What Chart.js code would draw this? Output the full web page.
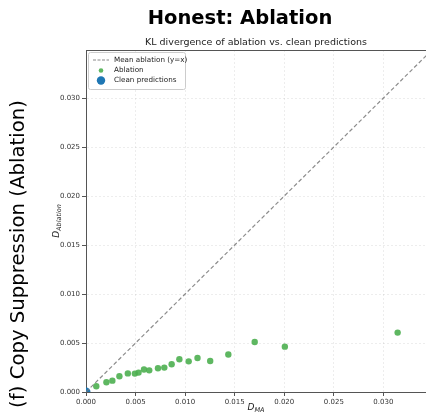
<!DOCTYPE html>
<html lang="en">
  <head>
    <meta charset="UTF-8" />
    <title>Honest: Ablation</title>
    <style>
      html, body { margin: 0; padding: 0; background: #fff; overflow: hidden; }
      canvas { display: block; }
    </style>
  </head>
  <body>
    <canvas id="chart" width="426" height="415"></canvas>

    <script src="https://cdn.jsdelivr.net/npm/chart.js@4.4.1/dist/chart.umd.min.js"></script>
    <script>
      // values
      const ablationX = [0.00104, 0.00206, 0.00266, 0.00337, 0.00422, 0.00493, 0.0053, 0.00585, 0.00638, 0.00726,
        0.0079, 0.00864, 0.00942, 0.01036, 0.01125, 0.01253, 0.01436, 0.01702, 0.02006, 0.03144];
      const ablationY = [0.00058, 0.00099, 0.00116, 0.0016, 0.0019, 0.00188, 0.00198, 0.00229, 0.00221, 0.00242,
        0.00249, 0.00283, 0.00334, 0.00313, 0.00347, 0.00316, 0.00382, 0.0051, 0.00463, 0.00606];
      const cleanX = [0];
      const cleanY = [0];
      const diagX = [0, 0.0349];
      const xMax = 0.0343;
      const yMax = 0.0349;
      const tickStep = 0.005;

      const green = "rgba(76,175,80,0.9)";
      const blue = "#1f77b4";

      function toPoints(xs, ys) {
        return xs.map((x, i) => ({ x: x, y: ys[i] }));
      }

      function drawD(ctx, sub, x, y, rotate) {
        ctx.save();
        ctx.translate(x, y);
        if (rotate) ctx.rotate(-Math.PI / 2);
        ctx.fillStyle = "#222";
        ctx.textBaseline = "alphabetic";
        ctx.font = "italic 9px 'DejaVu Sans'";
        const wD = ctx.measureText("D").width;
        ctx.font = "italic 6.5px 'DejaVu Sans'";
        const wS = ctx.measureText(sub).width;
        const x0 = -(wD + wS) / 2;
        ctx.font = "italic 9px 'DejaVu Sans'";
        ctx.textAlign = "left";
        ctx.fillText("D", x0, 3);
        ctx.font = "italic 6.5px 'DejaVu Sans'";
        ctx.fillText(sub, x0 + wD, 5);
        ctx.restore();
      }

      const decor = {
        id: "decor",
        afterDraw(chart) {
          const ctx = chart.ctx;
          const a = chart.chartArea;
          ctx.save();
          // frame top
          ctx.strokeStyle = "#555";
          ctx.lineWidth = 1;
          ctx.beginPath();
          ctx.moveTo(a.left, a.top + 0.5);
          ctx.lineTo(a.right, a.top + 0.5);
          ctx.stroke();

          // titles
          ctx.fillStyle = "#000";
          ctx.textAlign = "center";
          ctx.textBaseline = "middle";
          ctx.font = "bold 19.5px 'DejaVu Sans'";
          ctx.fillText("Honest: Ablation", 240, 19);
          ctx.fillStyle = "#222";
          ctx.font = "9.5px 'DejaVu Sans'";
          ctx.fillText("KL divergence of ablation vs. clean predictions", (a.left + a.right) / 2, 43);

          // row label
          ctx.save();
          ctx.translate(19, 254);
          ctx.rotate(-Math.PI / 2);
          ctx.fillStyle = "#000";
          ctx.font = "19.7px 'DejaVu Sans'";
          ctx.fillText("(f) Copy Suppression (Ablation)", 0, 0);
          ctx.restore();

          // axis titles
          drawD(ctx, "MA", (a.left + a.right) / 2, 407, false);
          drawD(ctx, "Ablation", 56, (a.top + a.bottom) / 2, true);

          // legend
          const lx = a.left + 2, ly = a.top + 2, lw = 97, lh = 37;
          ctx.fillStyle = "rgba(255,255,255,0.85)";
          ctx.strokeStyle = "#ccc";
          ctx.lineWidth = 1;
          ctx.beginPath();
          ctx.roundRect(lx + 0.5, ly + 0.5, lw, lh, 2);
          ctx.fill();
          ctx.stroke();

          const rows = [ly + 8, ly + 18.5, ly + 28.5];
          ctx.strokeStyle = "#888";
          ctx.setLineDash([3, 1.5]);
          ctx.beginPath();
          ctx.moveTo(lx + 5, rows[0]);
          ctx.lineTo(lx + 21, rows[0]);
          ctx.stroke();
          ctx.setLineDash([]);
          ctx.fillStyle = green;
          ctx.beginPath();
          ctx.arc(lx + 13, rows[1], 2.3, 0, Math.PI * 2);
          ctx.fill();
          ctx.fillStyle = blue;
          ctx.beginPath();
          ctx.arc(lx + 13, rows[2], 4.2, 0, Math.PI * 2);
          ctx.fill();

          ctx.fillStyle = "#222";
          ctx.textAlign = "left";
          ctx.font = "7.2px 'DejaVu Sans'";
          ctx.fillText("Mean ablation (y=x)", lx + 26, rows[0]);
          ctx.fillText("Ablation", lx + 26, rows[1]);
          ctx.fillText("Clean predictions", lx + 26, rows[2]);
          ctx.restore();
        },
      };

      const axisCommon = {
        type: "linear",
        min: 0,
        ticks: {
          stepSize: tickStep,
          includeBounds: false,
          color: "#333",
          font: { family: "DejaVu Sans", size: 7 },
          padding: 2,
          callback: (v) => v.toFixed(3),
        },
        grid: {
          color: "rgba(0,0,0,0.07)",
          tickColor: "#555",
          tickLength: 4,
        },
        border: { display: true, color: "#555", width: 1, dash: [2, 2] },
      };

      new Chart(document.getElementById("chart"), {
        type: "scatter",
        data: {
          datasets: [
            {
              type: "line",
              label: "Mean ablation (y=x)",
              data: toPoints(diagX, diagX),
              borderColor: "rgba(120,120,120,0.85)",
              borderWidth: 1.2,
              borderDash: [4, 2.5],
              pointRadius: 0,
              fill: false,
              clip: 0,
            },
            {
              label: "Ablation",
              data: toPoints(ablationX, ablationY),
              backgroundColor: green,
              borderWidth: 0,
              pointRadius: 3.2,
              clip: 0,
            },
            {
              label: "Clean predictions",
              data: toPoints(cleanX, cleanY),
              backgroundColor: blue,
              borderWidth: 0,
              pointRadius: 4.5,
              clip: 0,
            },
          ],
        },
        options: {
          responsive: false,
          animation: false,
          devicePixelRatio: 1,
          layout: { autoPadding: false, padding: { top: 50, right: 0, left: 0, bottom: 0 } },
          plugins: { legend: { display: false }, title: { display: false }, tooltip: { enabled: false } },
          scales: {
            x: Object.assign({}, axisCommon, {
              max: xMax,
              afterFit: (s) => { s.height = 23; s.paddingRight = 0; s.paddingLeft = 0; },
            }),
            y: Object.assign({}, axisCommon, {
              max: yMax,
              afterFit: (s) => { s.width = 86; s.paddingTop = 0; s.paddingBottom = 0; },
            }),
          },
        },
        plugins: [decor],
      });
    </script>
  </body>
</html>
